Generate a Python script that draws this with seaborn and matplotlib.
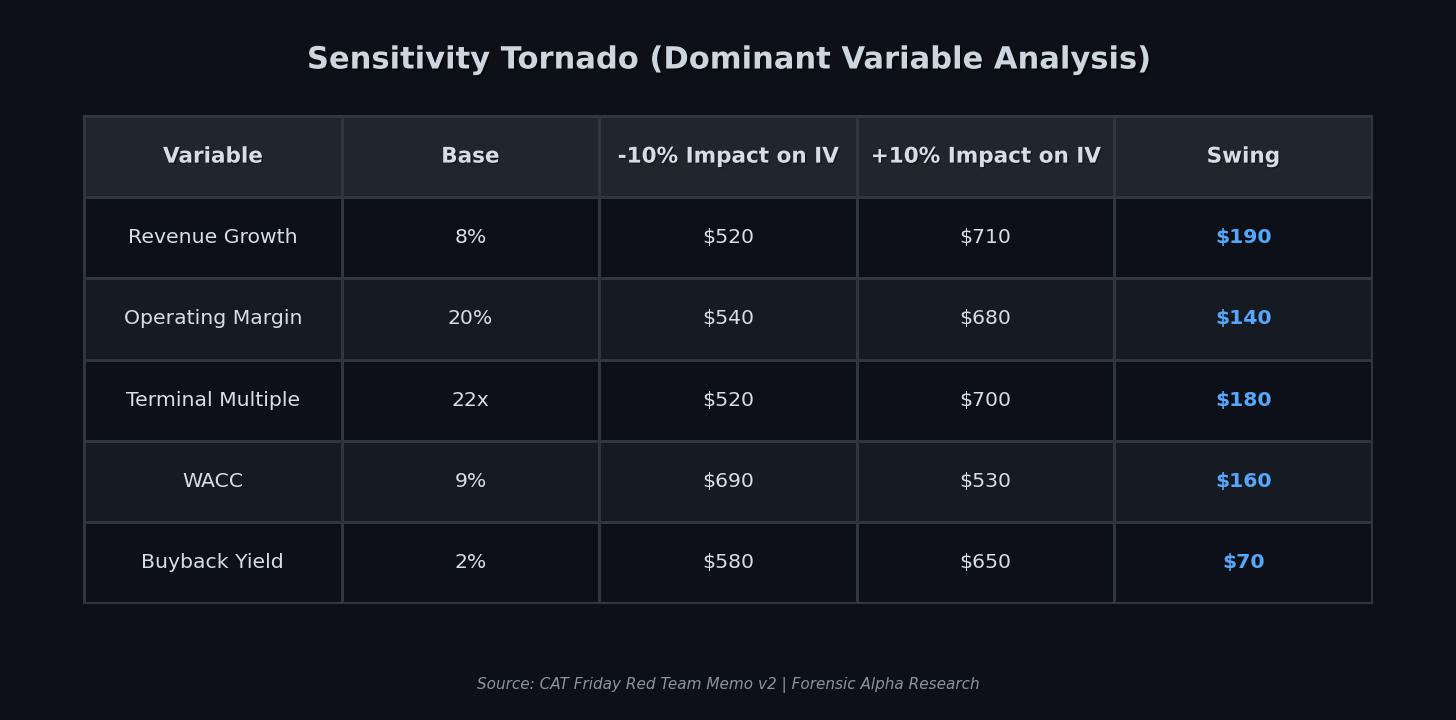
import numpy as np
import pandas as pd
import seaborn as sns
import matplotlib.pyplot as plt
from matplotlib.colors import ListedColormap
import matplotlib.patheffects as pe

columns = ['Variable', 'Base', '-10% Impact on IV', '+10% Impact on IV', 'Swing']
variables = ['Revenue Growth', 'Operating Margin', 'Terminal Multiple', 'WACC', 'Buyback Yield']
base = ['8%', '20%', '22x', '9%', '2%']
impact_down = [520, 540, 520, 690, 580]
impact_up = [710, 680, 700, 530, 650]
swing = [190, 140, 180, 160, 70]

bg = '#0d1117'
header_bg = '#21262d'
row_light = '#161b22'
border = '#30363d'
text_col = '#d7dde4'
blue = '#58a6ff'

sns.set_theme(style='white')
plt.rcParams['font.family'] = ['DejaVu Sans']

df = pd.DataFrame({
    'Variable': variables,
    'Base': base,
    '-10% Impact on IV': ['$%d' % v for v in impact_down],
    '+10% Impact on IV': ['$%d' % v for v in impact_up],
    'Swing': ['$%d' % v for v in swing],
})

labels = np.vstack([np.array(columns), df.values])
shade = np.zeros(labels.shape)
for i in range(1, labels.shape[0]):
    shade[i, :] = 1 if i % 2 == 1 else 2

fig = plt.figure(figsize=(14.56, 7.2), dpi=100, facecolor=bg)
ax = fig.add_axes([84 / 1456, 1 - 603 / 720, 1288 / 1456, 487 / 720])
sns.heatmap(shade, annot=labels, fmt='', cmap=ListedColormap([header_bg, bg, row_light]),
            vmin=-0.5, vmax=2.5, cbar=False, linewidths=1.0, linecolor=border,
            xticklabels=False, yticklabels=False, ax=ax,
            annot_kws={'fontsize': 14.7, 'color': text_col})

ncol = labels.shape[1]
for k, t in enumerate(ax.texts):
    r, c = divmod(k, ncol)
    t.set_color(text_col)
    if r == 0:
        t.set_fontweight('bold')
        t.set_fontsize(15.5)
        t.set_path_effects([pe.withSimplePatchShadow(offset=(1, -1), shadow_rgbFace='#000000', alpha=0.35)])
    elif c == ncol - 1:
        t.set_fontweight('bold')
        t.set_color(blue)

for s in ax.spines.values():
    s.set_visible(True)
    s.set_color(border)
    s.set_linewidth(1.5)

fig.text(0.5, 1 - 60 / 720, 'Sensitivity Tornado (Dominant Variable Analysis)',
         ha='center', va='center', fontsize=22, fontweight='bold', color='#cdd5df',
         path_effects=[pe.withSimplePatchShadow(offset=(1.5, -1.5), shadow_rgbFace='#000000', alpha=0.4)])
fig.text(0.5, 1 - 685 / 720, 'Source: CAT Friday Red Team Memo v2 | Forensic Alpha Research',
         ha='center', va='center', fontsize=11, style='italic', color='#8b949e')

fig.savefig('out.png', dpi=100, facecolor=bg)
